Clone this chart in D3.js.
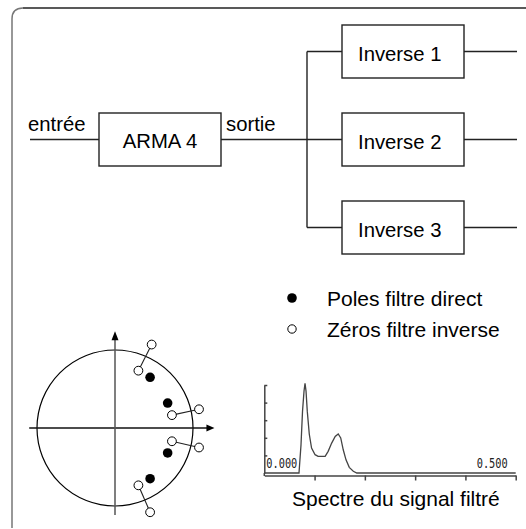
<!DOCTYPE html>
<html>
<head>
<meta charset="utf-8">
<script src="https://cdn.jsdelivr.net/npm/d3@7"></script>
<style>
  body { margin: 0; background: #fff; }
  text { font-family: "Liberation Sans", Arial, sans-serif; fill: #000; }
</style>
</head>
<body>
<div id="chart"></div>
<script>
// block diagram labels
const inputLabel = "entrée";
const outputLabel = "sortie";
const filterLabel = "ARMA 4";
const inverseLabels = ["Inverse 1", "Inverse 2", "Inverse 3"];

// legend
const legendLabels = ["Poles filtre direct", "Zéros filtre inverse"];

// z-plane : poles of the direct filter, zeros of the inverse filters (re, im)
const poles = [[0.45, 0.65], [0.675, 0.32], [0.675, -0.32], [0.45, -0.65]];
const zerosInner = [[0.30, 0.735], [0.73, 0.165], [0.73, -0.17], [0.30, -0.735]];
const zerosOuter = [[0.47, 1.07], [1.077, 0.24], [1.077, -0.25], [0.45, -1.08]];

// spectrum of the filtered signal
const freq = [0, 0.064, 0.069, 0.073, 0.076, 0.079, 0.081, 0.083, 0.0855, 0.0895, 0.094, 0.101, 0.107,
  0.121, 0.127, 0.134, 0.141, 0.147, 0.152, 0.157, 0.1625, 0.169, 0.177, 0.184, 0.5];
const power = [0, 0, 0, 1.6, 3.5, 4.65, 5.1, 4.65, 3.5, 2.2, 1.42, 1.04, 0.95,
  0.95, 1.23, 1.7, 2.08, 2.22, 1.99, 1.32, 0.75, 0.32, 0.1, 0, 0];
const freqTicks = [0.1, 0.2, 0.3, 0.4, 0.5];
const powerTicks = [1, 2, 3, 4, 5];
const freqLabels = ["0.000", "0.500"];
const spectrumTitle = "Spectre du signal filtré";

const W = 526, H = 529;
const svg = d3.select("#chart").append("svg")
  .attr("width", W).attr("height", H);

// frame
svg.append("path")
  .attr("d", "M12,528 V19 Q12,8 23,8")
  .attr("fill", "none").attr("stroke", "#777").attr("stroke-width", 1.5);
svg.append("line")
  .attr("x1", 23).attr("x2", W).attr("y1", 8).attr("y2", 8)
  .attr("stroke", "#222").attr("stroke-width", 1.5);

// ---- block diagram ----
const ink = "#222";
const boxW = 122, boxH = 53;
const rowY = d3.scalePoint().domain(inverseLabels).range([51.5, 227.5]);
const mainY = rowY(inverseLabels[1]);
const armaX = 99, invX = 342, branchX = 307;

const diag = svg.append("g")
  .attr("stroke", ink).attr("stroke-width", 1.4).attr("fill", "none");

diag.append("line").attr("x1", 30).attr("x2", armaX).attr("y1", mainY).attr("y2", mainY);
diag.append("line").attr("x1", armaX + boxW).attr("x2", branchX).attr("y1", mainY).attr("y2", mainY);
diag.append("line").attr("x1", branchX).attr("x2", branchX)
  .attr("y1", rowY(inverseLabels[0])).attr("y2", rowY(inverseLabels[2]));

diag.append("rect").attr("x", armaX).attr("y", mainY - boxH / 2)
  .attr("width", boxW).attr("height", boxH).attr("fill", "#fff");

const inv = diag.selectAll("g.inv").data(inverseLabels).enter().append("g").attr("class", "inv");
inv.append("line").attr("x1", branchX).attr("x2", invX)
  .attr("y1", d => rowY(d)).attr("y2", d => rowY(d));
inv.append("line").attr("x1", invX + boxW).attr("x2", 517)
  .attr("y1", d => rowY(d)).attr("y2", d => rowY(d));
inv.append("rect").attr("x", invX).attr("y", d => rowY(d) - boxH / 2)
  .attr("width", boxW).attr("height", boxH).attr("fill", "#fff");

const fs = 20.3;
svg.append("text").attr("x", 28).attr("y", mainY - 9).attr("font-size", fs).text(inputLabel);
svg.append("text").attr("x", 226).attr("y", mainY - 9).attr("font-size", fs).text(outputLabel);
svg.append("text").attr("x", armaX + boxW / 2).attr("y", mainY + 8.5)
  .attr("text-anchor", "middle").attr("font-size", fs).text(filterLabel);
svg.selectAll("text.inv").data(inverseLabels).enter().append("text")
  .attr("class", "inv")
  .attr("x", invX + 16).attr("y", d => rowY(d) + 9.5)
  .attr("font-size", fs).text(d => d);

// ---- legend ----
const legend = svg.append("g")
  .selectAll("g")
  .data(legendLabels)
  .enter().append("g")
  .attr("transform", (d, i) => "translate(292," + (298 + i * 31) + ")");
legend.append("circle")
  .attr("r", (d, i) => i === 0 ? 4.8 : 4.2)
  .attr("fill", (d, i) => i === 0 ? "#000" : "#fff")
  .attr("stroke", "#000").attr("stroke-width", (d, i) => i === 0 ? 0 : 1);
legend.append("text")
  .attr("x", 35).attr("y", 8)
  .attr("font-size", 21)
  .text(d => d);

// ---- z-plane ----
const zx = d3.scaleLinear().domain([-1, 1]).range([37, 193]);
const zy = d3.scaleLinear().domain([-1, 1]).range([506, 350]);
const zp = svg.append("g");

zp.append("circle")
  .attr("cx", zx(0)).attr("cy", zy(0)).attr("r", zx(1) - zx(0))
  .attr("fill", "none").attr("stroke", "#000").attr("stroke-width", 1.2);

zp.append("line").attr("x1", zx(-1.1)).attr("x2", zx(1.2))
  .attr("y1", zy(0)).attr("y2", zy(0)).attr("stroke", "#111").attr("stroke-width", 1.3);
zp.append("path")
  .attr("d", "M" + zx(1.275) + "," + zy(0) + " l-8,-3.5 v7 z").attr("fill", "#000");
zp.append("line").attr("x1", zx(0)).attr("x2", zx(0))
  .attr("y1", zy(-1.115)).attr("y2", zy(1.13)).attr("stroke", "#555").attr("stroke-width", 1.5);
zp.append("path")
  .attr("d", "M" + zx(0) + "," + zy(1.24) + " l-3.5,9 h7 z").attr("fill", "#000");

zp.selectAll("line.link").data(zerosInner).enter().append("line")
  .attr("class", "link")
  .attr("x1", d => zx(d[0])).attr("y1", d => zy(d[1]))
  .attr("x2", (d, i) => zx(zerosOuter[i][0])).attr("y2", (d, i) => zy(zerosOuter[i][1]))
  .attr("stroke", "#222").attr("stroke-width", 1.1);
zp.selectAll("circle.zero").data(zerosInner.concat(zerosOuter)).enter().append("circle")
  .attr("class", "zero")
  .attr("cx", d => zx(d[0])).attr("cy", d => zy(d[1])).attr("r", 4.4)
  .attr("fill", "#fff").attr("stroke", "#000").attr("stroke-width", 1);
zp.selectAll("circle.pole").data(poles).enter().append("circle")
  .attr("class", "pole")
  .attr("cx", d => zx(d[0])).attr("cy", d => zy(d[1])).attr("r", 4.8)
  .attr("fill", "#000");

// ---- spectrum ----
const sx = d3.scaleLinear().domain([0, 0.5]).range([264.3, 515.7]);
const sy = d3.scaleLinear().domain([0, 5]).range([473, 385]);
const sp = svg.append("g");
const grey = "#444";

sp.append("g")
  .attr("transform", "translate(0," + (sy(0) + 2.5) + ")")
  .call(d3.axisBottom(sx).tickValues(freqTicks).tickSize(5).tickSizeOuter(0).tickFormat(""))
  .call(g => g.selectAll("path,line").attr("stroke", grey).attr("stroke-width", 1.5));
sp.append("g")
  .attr("transform", "translate(" + sx(0) + ",0)")
  .call(d3.axisRight(sy).tickValues(powerTicks).tickSize(3).tickSizeOuter(0).tickFormat(""))
  .call(g => g.selectAll("path,line").attr("stroke", grey).attr("stroke-width", 1.5));
sp.append("line")
  .attr("x1", sx(0)).attr("x2", sx(0)).attr("y1", sy(0)).attr("y2", sy(0) + 3)
  .attr("stroke", grey).attr("stroke-width", 1.5);

sp.append("path")
  .datum(freq.map((f, i) => [f, power[i]]))
  .attr("d", d3.line().x(d => sx(d[0])).y(d => sy(d[1])))
  .attr("fill", "none").attr("stroke", grey).attr("stroke-width", 1.3);

sp.selectAll("text.fl").data(freqLabels).enter().append("text")
  .attr("class", "fl")
  .attr("x", (d, i) => i === 0 ? sx(0) + 2 : sx(0.5) - 39)
  .attr("y", sy(0) - 5.5)
  .attr("font-size", 14)
  .attr("textLength", 31).attr("lengthAdjust", "spacingAndGlyphs")
  .style("font-family", "'DejaVu Sans Mono', monospace")
  .style("fill", "#222")
  .text(d => d);

svg.append("text")
  .attr("x", 292).attr("y", 506)
  .attr("font-size", 21)
  .text(spectrumTitle);
</script>
</body>
</html>
